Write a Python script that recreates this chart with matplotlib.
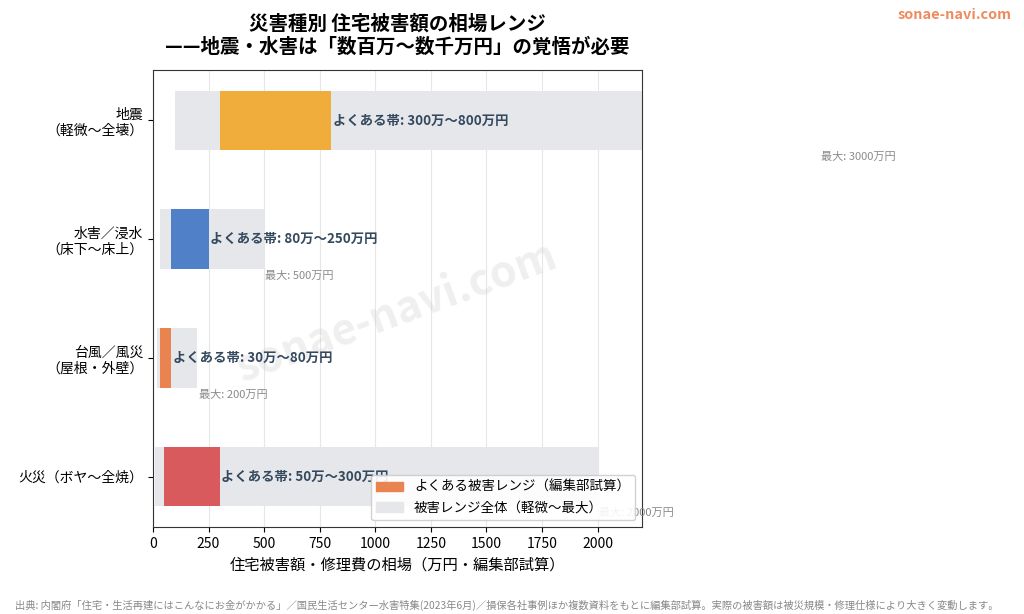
import matplotlib.pyplot as plt
from matplotlib.patches import Patch

plt.rcParams['font.family'] = ['Noto Sans CJK JP', 'DejaVu Sans']

# data (万円)
labels = ['地震\n（軽微〜全壊）', '水害／浸水\n（床下〜床上）', '台風／風災\n（屋根・外壁）', '火災（ボヤ〜全焼）']
range_min = [100, 30, 20, 10]
range_max = [3000, 500, 200, 2000]
common_lo = [300, 80, 30, 50]
common_hi = [800, 250, 80, 300]
colors = ['#F0AD3C', '#4F80C8', '#E9834F', '#D95A5C']

fig = plt.figure(figsize=(10.24, 6.14), dpi=100)
ax = fig.add_axes([0.1494, 0.1417, 0.4776, 0.7443])

y = list(range(len(labels)))
ax.barh(y, [mx - mn for mn, mx in zip(range_min, range_max)], left=range_min,
        height=0.5, color='#E5E7EA', zorder=2)
ax.barh(y, [hi - lo for lo, hi in zip(common_lo, common_hi)], left=common_lo,
        height=0.5, color=colors, zorder=3)

for i in y:
    ax.text(common_hi[i] + 8, i, f'よくある帯: {common_lo[i]}万〜{common_hi[i]}万円',
            va='center', ha='left', fontsize=9.6, fontweight='bold', color='#34495E', zorder=4)
    ax.text(range_max[i] + 5, i + 0.31, f'最大: {range_max[i]}万円',
            va='center', ha='left', fontsize=8, color='#8A8A8A', clip_on=False, zorder=4)

ax.set_yticks(y)
ax.set_yticklabels(labels, fontsize=10)
ax.invert_yaxis()
ax.set_xlim(0, 2200)
ax.set_xticks([0, 250, 500, 750, 1000, 1250, 1500, 1750, 2000])
ax.tick_params(axis='x', labelsize=10)
ax.grid(axis='x', color='#E6E6E6', linewidth=0.8, zorder=0)
ax.set_axisbelow(True)
ax.set_xlabel('住宅被害額・修理費の相場（万円・編集部試算）', fontsize=11)
for s in ax.spines.values():
    s.set_color('#333333')

ax.text(0.5, 0.47, 'sonae-navi.com', transform=ax.transAxes, fontsize=31,
        color='#CCCCCC', alpha=0.3, rotation=20, ha='center', va='center',
        fontweight='bold', zorder=1)

handles = [Patch(color='#E9834F', label='よくある被害レンジ（編集部試算）'),
           Patch(color='#E5E7EA', label='被害レンジ全体（軽微〜最大）')]
ax.legend(handles=handles, loc='lower right', fontsize=9.7, framealpha=0.9)

fig.text(0.388, 0.942, '災害種別 住宅被害額の相場レンジ\n——地震・水害は「数百万〜数千万円」の覚悟が必要',
         ha='center', va='center', fontsize=14, fontweight='bold', linespacing=1.2)
fig.text(0.988, 0.975, 'sonae-navi.com', ha='right', va='center', fontsize=10.4,
         fontweight='bold', color='#F08A5D')
fig.text(0.0146, 0.005, '出典: 内閣府「住宅・生活再建にはこんなにお金がかかる」／国民生活センター水害特集(2023年6月)／損保各社事例ほか複数資料をもとに編集部試算。実際の被害額は被災規模・修理仕様により大きく変動します。',
         ha='left', va='bottom', fontsize=7.4, color='#888888')

fig.savefig('out.png', dpi=100)
